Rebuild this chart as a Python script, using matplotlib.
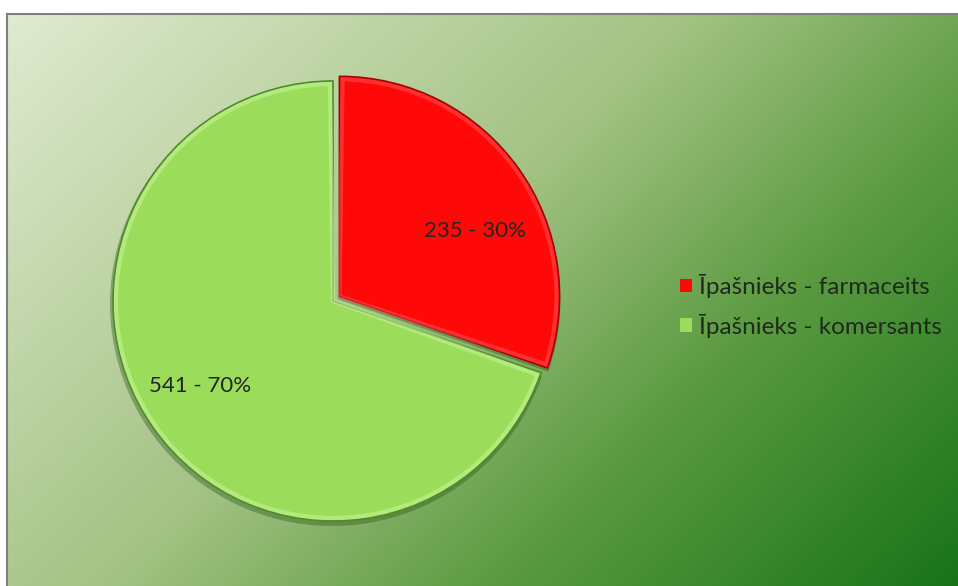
import numpy as np
import matplotlib
matplotlib.use("Agg")
import matplotlib.pyplot as plt
from matplotlib.colors import LinearSegmentedColormap
from matplotlib.patches import Patch, Wedge

categories = ["Īpašnieks - farmaceits", "Īpašnieks - komersants"]
values = [235, 541]
colors = ["#ff0808", "#9bdd5a"]

W, H = 958, 586
fig = plt.figure(figsize=(W / 100, H / 100), dpi=100)
fig.patch.set_facecolor("white")

# background gradient panel
bg = fig.add_axes([7 / W, 0, (W - 7) / W, (H - 14) / H])
yy, xx = np.mgrid[0:1:300j, 0:1:500j]
t = 0.62 * xx + 0.38 * yy
cmap = LinearSegmentedColormap.from_list(
    "bg", [(0, "#e0ead0"), (0.45, "#a2c282"), (0.7, "#5a9a40"), (1.0, "#197419")])
bg.imshow(t, cmap=cmap, aspect="auto", extent=[0, 1, 1, 0], vmin=0, vmax=1)
bg.set_xticks([]); bg.set_yticks([])
for s in ["left", "top"]:
    bg.spines[s].set_color("#808080"); bg.spines[s].set_linewidth(1.5)
for s in ["right", "bottom"]:
    bg.spines[s].set_visible(False)

# pie in pixel coordinates
ax = fig.add_axes([0, 0, 1, 1])
ax.axis("off")

def fmt(p):
    n = int(round(p * sum(values) / 100))
    return f"{n} - {p:.0f}%"

font = ["Lato", "DejaVu Sans"]
wedges, texts, autotexts = ax.pie(
    values, colors=colors, startangle=90, counterclock=False,
    center=(333, H - 301), radius=220, explode=[8, 0],
    autopct=fmt, pctdistance=0.70,
    wedgeprops=dict(edgecolor="#4f8a2c", linewidth=1.2, zorder=3),
    textprops=dict(fontsize=16, color="#242424", family=font, zorder=6))
wedges[0].set_edgecolor("#a80000")

# soft shadow and bevel highlight around each wedge
for w, hl, a in zip(wedges, ["#ff6a6a", "#c9f59a"], [0.4, 0.55]):
    cx, cy = w.center
    sh = Wedge((cx - 1, cy - 3), w.r + 2, w.theta1, w.theta2,
               facecolor="#1f4a10", edgecolor="none", alpha=0.35, zorder=2)
    ax.add_patch(sh)
    rim = Wedge((cx, cy), w.r - 3, w.theta1 + 0.8, w.theta2 - 0.8,
                facecolor="none", edgecolor=hl, linewidth=3, alpha=a, zorder=4)
    ax.add_patch(rim)

# nudge the value labels to where the reference puts them
autotexts[0].set_position((autotexts[0].get_position()[0] + 10,
                           autotexts[0].get_position()[1] - 24))
autotexts[1].set_position((autotexts[1].get_position()[0] - 8,
                           autotexts[1].get_position()[1] + 4))

ax.set_xlim(0, W); ax.set_ylim(0, H)
ax.set_aspect("equal")

handles = [Patch(facecolor=c, edgecolor="none") for c in colors]
leg = ax.legend(handles, categories, loc="center left",
                bbox_to_anchor=(658 / W, 1 - 306 / H), frameon=False,
                prop=dict(family=font, size=17.5),
                handlelength=0.5, handleheight=0.5, handletextpad=0.3,
                labelspacing=0.65, labelcolor="#1e2a1e")

fig.savefig("out.png", dpi=100)
